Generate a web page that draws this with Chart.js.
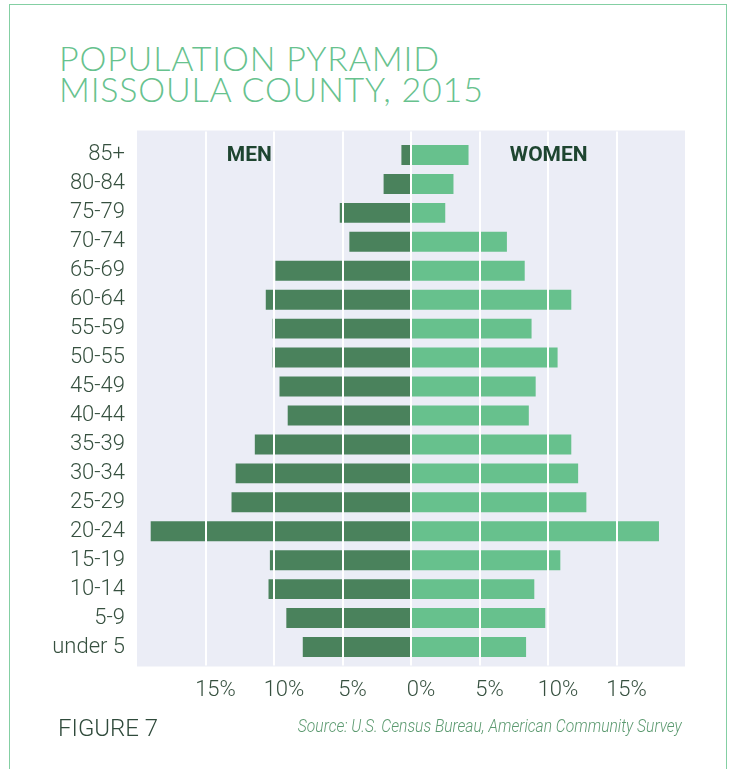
<!DOCTYPE html>
<html>
<head>
<meta charset="utf-8">
<script src="https://cdn.jsdelivr.net/npm/chart.js@4"></script>
<style>
  html, body { margin:0; padding:0; background:#fff; }
  body { width:729px; height:769px; position:relative; overflow:hidden; }
  .frame { position:absolute; left:9px; top:4px; width:718px; height:800px;
           border:1.5px solid #84cfa3; box-sizing:border-box; }
  .title { position:absolute; left:59px; top:42px; font-family:Lato, sans-serif; font-weight:300; font-size:34px;
           line-height:31.3px; letter-spacing:0.8px; color:#67c28e; white-space:nowrap; }
  .fig { position:absolute; left:58px; top:716px; font-family:Roboto, sans-serif; font-weight:300;
         font-size:24px; line-height:1; color:#2f4a3b; }
  .src { position:absolute; right:47px; top:717px; font-family:Roboto, sans-serif; font-weight:300;
         font-style:italic; font-size:18px; line-height:1; color:#5c9a70; white-space:nowrap;
         transform-origin:right center; }
  canvas { position:absolute; left:0; top:0; }
</style>
</head>
<body>
<div class="frame"></div>
<div class="title">POPULATION PYRAMID<br>MISSOULA COUNTY, 2015</div>
<canvas id="pyramid" width="729" height="769"></canvas>
<div class="fig">FIGURE 7</div>
<div class="src" id="src">Source: U.S. Census Bureau, American Community Survey</div>
<script>
// age groups, oldest at the top
const ageGroups = ['85+', '80-84', '75-79', '70-74', '65-69', '60-64', '55-59', '50-55', '45-49',
                   '40-44', '35-39', '30-34', '25-29', '20-24', '15-19', '10-14', '5-9', 'under 5'];
// share of population, %
const menPct   = [0.7, 2.0, 5.2, 4.5, 9.9, 10.6, 10.1, 10.1, 9.6, 9.0, 11.4, 12.8, 13.1, 19.0, 10.3, 10.4, 9.1, 7.9];
const womenPct = [4.2, 3.1, 2.5, 7.0, 8.3, 11.7, 8.8, 10.7, 9.1, 8.6, 11.7, 12.2, 12.8, 18.1, 10.9, 9.0, 9.8, 8.4];
const gridTicks = [-15, -10, -5, 0, 5, 10, 15];

const FONT = 'Roboto, sans-serif';
const TEXT = '#36503f';

// the source line is set in a condensed italic; squeeze it to the same width
const src = document.getElementById('src');
src.style.transform = 'scaleX(' + (384 / src.getBoundingClientRect().width) + ')';

// plot panel + white gridlines over the bars + MEN / WOMEN tags
const panel = {
  id: 'panel',
  beforeDraw(chart){
    const { ctx, chartArea: a } = chart;
    ctx.save();
    ctx.fillStyle = '#ebedf6';
    ctx.fillRect(a.left, a.top - 10, a.right - a.left, a.bottom - a.top + 15);
    ctx.restore();
  },
  afterDatasetsDraw(chart){
    const { ctx, chartArea: a } = chart;
    const x = chart.scales.x, y = chart.scales.y;
    ctx.save();
    ctx.strokeStyle = '#ffffff';
    ctx.lineWidth = 2;
    gridTicks.forEach(v => {
      const px = Math.round(x.getPixelForValue(v));
      ctx.beginPath();
      ctx.moveTo(px, a.top - 9);
      ctx.lineTo(px, a.bottom + 4);
      ctx.stroke();
    });
    ctx.fillStyle = '#1e4530';
    ctx.font = 'bold 21px ' + FONT;
    ctx.textAlign = 'center';
    ctx.textBaseline = 'middle';
    const ty = y.getPixelForValue(0) + 1;
    ctx.fillText('MEN', x.getPixelForValue(-11.8), ty);
    ctx.fillText('WOMEN', x.getPixelForValue(10.05), ty);
    ctx.restore();
  }
};

new Chart(document.getElementById('pyramid'), {
  type: 'bar',
  data: {
    labels: ageGroups,
    datasets: [
      { label: 'Men', data: menPct.map(v => -v), backgroundColor: '#4a825c' },
      { label: 'Women', data: womenPct, backgroundColor: '#67c18d' }
    ]
  },
  options: {
    indexAxis: 'y',
    responsive: false,
    animation: false,
    layout: { padding: { top: 140.5, right: 44, left: 0, bottom: 0 } },
    datasets: { bar: { barPercentage: 0.69, categoryPercentage: 1 } },
    plugins: { legend: { display: false }, tooltip: { enabled: false }, title: { display: false } },
    scales: {
      x: {
        stacked: true, min: -20, max: 20,
        grid: { display: false }, border: { display: false },
        afterFit(s){ s.height = 107.5; },
        ticks: {
          stepSize: 5, padding: 8, labelOffset: 10, color: TEXT,
          font: { family: FONT, size: 22, weight: 300 },
          callback: v => Math.abs(v) === 20 ? '' : Math.abs(v) + '%'
        }
      },
      y: {
        stacked: true,
        grid: { display: false, drawTicks: false }, border: { display: false },
        afterFit(s){ s.width = 137; },
        ticks: { autoSkip: false, padding: 12, color: TEXT, font: { family: FONT, size: 22, weight: 300 } }
      }
    }
  },
  plugins: [panel]
});
</script>
</body>
</html>
